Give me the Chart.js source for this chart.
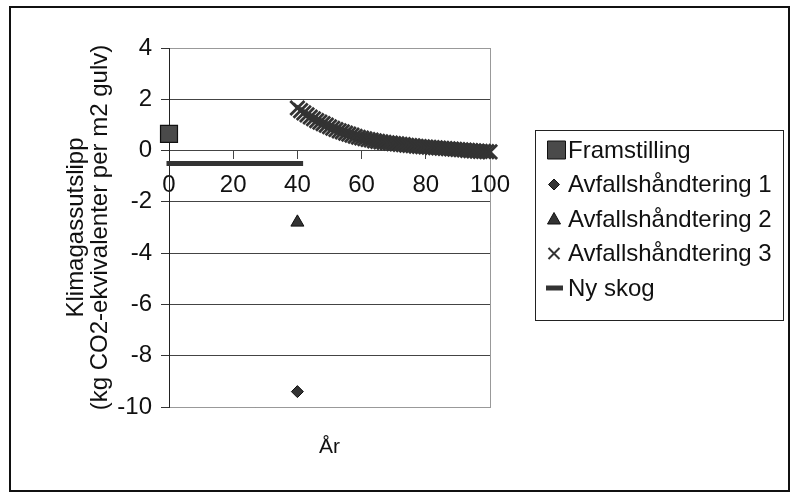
<!DOCTYPE html>
<html>
<head>
<meta charset="utf-8">
<script src="https://cdn.jsdelivr.net/npm/chart.js@4.4.1/dist/chart.umd.min.js"></script>
<style>
  html, body { margin: 0; padding: 0; background: #fff; }
  #wrap { width: 793px; height: 493px; }
</style>
</head>
<body>
<div id="wrap"><canvas id="c" width="793" height="493"></canvas></div>
<script>
// Series names (legend order)
const seriesNames = ['Framstilling', 'Avfallshåndtering 1', 'Avfallshåndtering 2', 'Avfallshåndtering 3', 'Ny skog'];

// Framstilling: emission at year 0
const framstillingYears = [0];
const framstillingValues = [0.65];

// Avfallshåndtering 1 and 2: one value each at year 40
const avf1Years = [40];
const avf1Values = [-9.4];
const avf2Years = [40];
const avf2Values = [-2.8];

// Avfallshåndtering 3: yearly values from year 40 to 100
const avf3Years = [40, 41, 42, 43, 44, 45, 46, 47, 48, 49,
                   50, 51, 52, 53, 54, 55, 56, 57, 58, 59,
                   60, 61, 62, 63, 64, 65, 66, 67, 68, 69,
                   70, 71, 72, 73, 74, 75, 76, 77, 78, 79,
                   80, 81, 82, 83, 84, 85, 86, 87, 88, 89,
                   90, 91, 92, 93, 94, 95, 96, 97, 98, 99, 100];
const avf3Values = [1.66, 1.56, 1.47, 1.39, 1.31, 1.24, 1.17, 1.11, 1.05, 0.99,
                    0.93, 0.87, 0.82, 0.77, 0.73, 0.68, 0.64, 0.60, 0.56, 0.52,
                    0.49, 0.46, 0.43, 0.41, 0.38, 0.36, 0.34, 0.32, 0.30, 0.29,
                    0.27, 0.26, 0.24, 0.23, 0.21, 0.20, 0.19, 0.17, 0.16, 0.15,
                    0.14, 0.13, 0.12, 0.11, 0.10, 0.09, 0.08, 0.07, 0.06, 0.05,
                    0.04, 0.03, 0.02, 0.01, 0.00, -0.01, -0.02, -0.03, -0.03, -0.04, -0.05];

// Ny skog: constant uptake over the first years
const nyskogYears = [0, 41];
const nyskogValues = [-0.5, -0.5];

// Axis ticks
const xTicks = [0, 20, 40, 60, 80, 100];
const yTicks = [-10, -8, -6, -4, -2, 0, 2, 4];

const yTitle = ['Klimagassutslipp', '(kg CO2-ekvivalenter per m2 gulv)'];
const xTitle = 'År';

const FONT = '"Liberation Sans", Arial, Helvetica, sans-serif';
const pts = (xs, ys) => xs.map((x, i) => ({ x: x, y: ys[i] }));

const markColor = '#333';

const datasets = [
  {
    label: seriesNames[0],
    data: pts(framstillingYears, framstillingValues),
    pointStyle: 'rect', pointRadius: 12, pointHoverRadius: 12,
    backgroundColor: '#4a4a4a', borderColor: '#111', borderWidth: 1.2,
    clip: false
  },
  {
    label: seriesNames[1],
    data: pts(avf1Years, avf1Values),
    pointStyle: 'rectRot', pointRadius: 6, pointHoverRadius: 6,
    backgroundColor: markColor, borderColor: '#111', borderWidth: 1,
    clip: false
  },
  {
    label: seriesNames[2],
    data: pts(avf2Years, avf2Values),
    pointStyle: 'triangle', pointRadius: 7.5, pointHoverRadius: 7.5,
    backgroundColor: markColor, borderColor: '#111', borderWidth: 1,
    clip: false
  },
  {
    label: seriesNames[3],
    data: pts(avf3Years, avf3Values),
    pointStyle: 'crossRot', pointRadius: 10, pointHoverRadius: 10,
    backgroundColor: markColor, borderColor: markColor, borderWidth: 2.8,
    clip: false
  },
  {
    label: seriesNames[4],
    data: pts(nyskogYears, nyskogValues),
    showLine: true, pointRadius: 0, pointHoverRadius: 0,
    borderColor: '#333', backgroundColor: '#333', borderWidth: 5,
    borderCapStyle: 'square',
    clip: false
  }
];

// White page, outer frame, dotted plot border
const framePlugin = {
  id: 'frame',
  beforeDraw(chart) {
    const ctx = chart.ctx;
    ctx.save();
    ctx.fillStyle = '#fff';
    ctx.fillRect(0, 0, chart.width, chart.height);
    ctx.restore();
  },
  afterDraw(chart) {
    const ctx = chart.ctx;
    const a = chart.chartArea;
    ctx.save();
    // plot border: top, right, bottom dotted
    ctx.strokeStyle = '#333';
    ctx.lineWidth = 1;
    ctx.setLineDash([1, 1]);
    ctx.beginPath();
    ctx.moveTo(Math.round(a.left) + 0.5, Math.round(a.top) + 0.5);
    ctx.lineTo(Math.round(a.right) + 0.5, Math.round(a.top) + 0.5);
    ctx.lineTo(Math.round(a.right) + 0.5, Math.round(a.bottom) + 0.5);
    ctx.lineTo(Math.round(a.left) + 0.5, Math.round(a.bottom) + 0.5);
    ctx.stroke();
    ctx.setLineDash([]);
    // outer frame
    ctx.strokeStyle = '#111';
    ctx.lineWidth = 2;
    ctx.strokeRect(10, 7, 779, 484);
    ctx.restore();
  }
};

// Boxed legend to the right of the plot
const boxLegendPlugin = {
  id: 'boxLegend',
  afterDraw(chart) {
    const ctx = chart.ctx;
    ctx.save();
    ctx.strokeStyle = '#222';
    ctx.lineWidth = 1;
    ctx.strokeRect(535.5, 130.5, 248, 190);
    ctx.font = '24px ' + FONT;
    ctx.textBaseline = 'middle';
    ctx.textAlign = 'left';
    const textX = 568;
    chart.data.datasets.forEach((ds, i) => {
      const cy = 150 + i * 34.5;
      const cx = 554;
      ctx.fillStyle = ds.backgroundColor;
      ctx.strokeStyle = ds.borderColor;
      ctx.lineWidth = 1;
      ctx.beginPath();
      if (ds.pointStyle === 'rect') {
        ctx.rect(547.5, cy - 9, 18, 18);
        ctx.fill(); ctx.stroke();
      } else if (ds.pointStyle === 'rectRot') {
        const r = 5.5;
        ctx.moveTo(cx - r, cy); ctx.lineTo(cx, cy - r); ctx.lineTo(cx + r, cy); ctx.lineTo(cx, cy + r);
        ctx.closePath(); ctx.fill(); ctx.stroke();
      } else if (ds.pointStyle === 'triangle') {
        ctx.moveTo(cx, cy - 6.5); ctx.lineTo(cx + 6.5, cy + 5); ctx.lineTo(cx - 6.5, cy + 5);
        ctx.closePath(); ctx.fill(); ctx.stroke();
      } else if (ds.pointStyle === 'crossRot') {
        const r = 5.5;
        ctx.lineWidth = 2;
        ctx.moveTo(cx - r, cy - r); ctx.lineTo(cx + r, cy + r);
        ctx.moveTo(cx + r, cy - r); ctx.lineTo(cx - r, cy + r);
        ctx.stroke();
      } else {
        ctx.fillRect(546, cy - 2.5, 17, 5);
      }
      ctx.fillStyle = '#111';
      ctx.fillText(ds.label, textX, cy + 1);
    });
    ctx.restore();
  }
};

new Chart(document.getElementById('c'), {
  type: 'scatter',
  data: { datasets: datasets },
  plugins: [framePlugin, boxLegendPlugin],
  options: {
    responsive: false,
    animation: false,
    devicePixelRatio: 1,
    layout: { padding: { left: 0, top: 48, right: 303, bottom: 0 } },
    plugins: {
      legend: { display: false },
      tooltip: { enabled: false }
    },
    scales: {
      x: {
        type: 'linear',
        position: { y: 0 },
        min: 0, max: 100,
        afterBuildTicks: (s) => { s.ticks = xTicks.map(v => ({ value: v })); },
        afterFit: (s) => { s.height = 0; },
        ticks: { font: { size: 24, family: FONT }, color: '#111', padding: 12, maxRotation: 0 },
        grid: { drawOnChartArea: false, drawTicks: true, tickLength: 8, color: '#444', tickColor: '#444' },
        border: { display: true, color: '#444', width: 1 }
      },
      xTitle: {
        type: 'linear',
        axis: 'x',
        position: 'bottom',
        min: 0, max: 100,
        afterFit: (s) => { s.height = 86; },
        ticks: { display: false },
        grid: { display: false },
        border: { display: false },
        title: {
          display: true, text: xTitle, color: '#111',
          font: { size: 21, family: FONT, lineHeight: 1.2 },
          padding: { top: 0, bottom: 33 }
        }
      },
      y: {
        type: 'linear',
        position: 'left',
        min: -10, max: 4,
        afterBuildTicks: (s) => { s.ticks = yTicks.map(v => ({ value: v })); },
        afterFit: (s) => { s.width = 169; },
        ticks: { font: { size: 24, family: FONT }, color: '#111', padding: 9 },
        grid: {
          drawTicks: true, tickLength: 8,
          color: (c) => (c.tick && (c.tick.value === 4 || c.tick.value === -10)) ? 'rgba(0,0,0,0)' : '#444',
          tickColor: '#333', lineWidth: 1
        },
        border: { display: true, color: '#222', width: 1 },
        title: {
          display: true, text: yTitle, color: '#111',
          font: { size: 24, family: FONT, lineHeight: 1.0 },
          padding: { top: 64, bottom: 0 }
        }
      }
    }
  }
});
</script>
</body>
</html>
